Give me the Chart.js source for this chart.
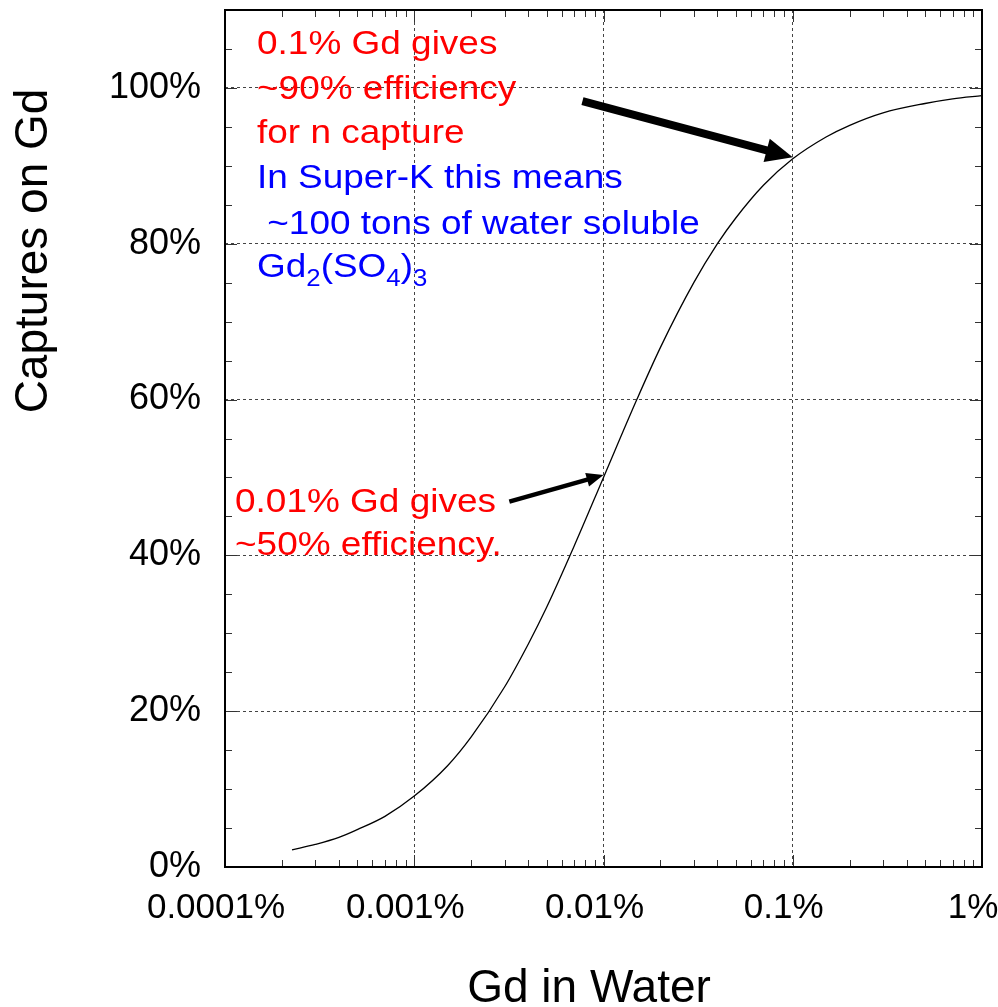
<!DOCTYPE html>
<html>
<head>
<meta charset="utf-8">
<script src="https://cdn.jsdelivr.net/npm/chart.js@4.4.1/dist/chart.umd.min.js"></script>
<style>
  body { margin: 0; background: #fff; }
</style>
</head>
<body>
<canvas id="graficoGd" width="998" height="1007"></canvas>
<script>
// Gd concentration in water (%) and fraction of captures on Gd (%)
const gdInWater = [0.000226, 0.0003, 0.0004, 0.0005, 0.0007, 0.001, 0.0015, 0.002, 0.003, 0.004, 0.005, 0.007,
  0.01, 0.015, 0.02, 0.03, 0.04, 0.05, 0.07, 0.1, 0.15, 0.2, 0.3, 0.5, 0.7, 1.0];
const capturesOnGd = [2.2, 2.9, 3.8, 4.8, 6.5, 9.1, 13.0, 16.7, 23.1, 28.6, 33.3, 41.2,
  50.0, 60.0, 66.7, 75.0, 80.0, 83.3, 87.5, 90.9, 93.7, 95.2, 96.8, 98.0, 98.6, 99.0];

const xTickValues = [0.0001, 0.001, 0.01, 0.1, 1];
const xTickLabels = ["0.0001%", "0.001%", "0.01%", "0.1%", "1%"];
const yTickValues = [0, 20, 40, 60, 80, 100];
const yTickLabels = ["0%", "20%", "40%", "60%", "80%", "100%"];

// annotation texts
const notaVermelha = ["0.1% Gd gives", "~90% efficiency", "for n capture"];
const notaAzul = ["In Super-K this means", " ~100 tons of water soluble"];
const formula = [["Gd", false], ["2", true], ["(SO", false], ["4", true], [")", false], ["3", true]];
const notaBaixo = ["0.01% Gd gives", "~50% efficiency."];

// arrows: [x, y] in data units, from tail to tip
const setaGrande = { de: [0.00774, 98.3], para: [0.1, 91.1] };
const setaPequena = { de: [0.00318, 46.9], para: [0.01, 50.3] };

const FONTE = "'Liberation Sans', Arial, sans-serif";

// log ticks: decades plus 2..9 in between
const xTicks = [];
xTickValues.forEach((v, i) => {
  xTicks.push({ value: v, major: true });
  if (i < xTickValues.length - 1) {
    for (let k = 2; k <= 9; k++) {
      xTicks.push({ value: Number((v * k).toPrecision(6)), major: false });
    }
  }
});

function ehMaiorY(v) {
  return v % 20 === 0 && v > 0 && v <= 100;
}

function seta(ctx, x1, y1, x2, y2, largura, cabeca, abertura) {
  const dx = x2 - x1, dy = y2 - y1;
  const len = Math.sqrt(dx * dx + dy * dy);
  const ux = dx / len, uy = dy / len;
  const bx = x2 - ux * cabeca, by = y2 - uy * cabeca;
  ctx.save();
  ctx.strokeStyle = "#000";
  ctx.fillStyle = "#000";
  ctx.lineWidth = largura;
  ctx.lineCap = "butt";
  ctx.beginPath();
  ctx.moveTo(x1, y1);
  ctx.lineTo(bx + ux * 2, by + uy * 2);
  ctx.stroke();
  ctx.beginPath();
  ctx.moveTo(x2, y2);
  ctx.lineTo(bx - uy * abertura / 2, by + ux * abertura / 2);
  ctx.lineTo(bx + uy * abertura / 2, by - ux * abertura / 2);
  ctx.closePath();
  ctx.fill();
  ctx.restore();
}

function escreve(ctx, texto, x, y, cor) {
  ctx.save();
  ctx.translate(x, y);
  ctx.scale(1.12, 1);
  ctx.font = "33px " + FONTE;
  ctx.fillStyle = cor;
  ctx.textAlign = "left";
  ctx.textBaseline = "alphabetic";
  ctx.fillText(texto, 0, 0);
  ctx.restore();
}

const desenhos = {
  id: "desenhos",
  afterDraw(chart) {
    const ctx = chart.ctx;
    const a = chart.chartArea;
    const sx = chart.scales.x, sy = chart.scales.y;

    ctx.save();
    // inward tick marks on all four sides
    ctx.strokeStyle = "#333";
    ctx.lineWidth = 1;
    ctx.beginPath();
    sx.ticks.forEach((t) => {
      const px = Math.round(sx.getPixelForValue(t.value)) + 0.5;
      const len = t.major ? 12 : 7;
      ctx.moveTo(px, a.bottom);
      ctx.lineTo(px, a.bottom - len);
      ctx.moveTo(px, a.top);
      ctx.lineTo(px, a.top + len);
    });
    sy.ticks.forEach((t) => {
      const py = Math.round(sy.getPixelForValue(t.value)) + 0.5;
      const len = t.value % 20 === 0 ? 12 : 7;
      ctx.moveTo(a.left, py);
      ctx.lineTo(a.left + len, py);
      ctx.moveTo(a.right, py);
      ctx.lineTo(a.right - len, py);
    });
    ctx.stroke();

    // frame
    ctx.strokeStyle = "#000";
    ctx.lineWidth = 2;
    ctx.strokeRect(a.left, a.top, a.right - a.left, a.bottom - a.top);
    ctx.restore();

    // annotation texts
    const x0 = a.left + 32;
    notaVermelha.forEach((l, i) => escreve(ctx, l, x0, a.top + 44 + i * 44.6, "#ff0000"));
    notaAzul.forEach((l, i) => escreve(ctx, l, x0, a.top + 178 + i * 45.5, "#0000ff"));

    ctx.save();
    let cx = x0;
    const by = a.top + 267;
    formula.forEach(([t, sub]) => {
      ctx.save();
      ctx.translate(cx, sub ? by + 9 : by);
      ctx.scale(1.12, 1);
      ctx.font = (sub ? "23px " : "33px ") + FONTE;
      ctx.fillStyle = "#0000ff";
      ctx.textBaseline = "alphabetic";
      ctx.fillText(t, 0, 0);
      cx += ctx.measureText(t).width * 1.12;
      ctx.restore();
    });
    ctx.restore();

    notaBaixo.forEach((l, i) => escreve(ctx, l, a.left + 10, a.top + 502 + i * 43, "#ff0000"));

    // arrows through the scales
    seta(ctx,
      sx.getPixelForValue(setaGrande.de[0]), sy.getPixelForValue(setaGrande.de[1]),
      sx.getPixelForValue(setaGrande.para[0]), sy.getPixelForValue(setaGrande.para[1]),
      8, 27, 24);
    seta(ctx,
      sx.getPixelForValue(setaPequena.de[0]), sy.getPixelForValue(setaPequena.de[1]),
      sx.getPixelForValue(setaPequena.para[0]), sy.getPixelForValue(setaPequena.para[1]),
      4.5, 17, 14);

    // axis titles
    ctx.save();
    ctx.fillStyle = "#000";
    ctx.font = "46px " + FONTE;
    ctx.textAlign = "center";
    ctx.textBaseline = "alphabetic";
    ctx.fillText("Gd in Water", a.left + 364, 1002);
    ctx.translate(47, 251);
    ctx.rotate(-Math.PI / 2);
    ctx.fillText("Captures on Gd", 0, 0);
    ctx.restore();
  },
};

new Chart(document.getElementById("graficoGd"), {
  type: "line",
  data: {
    datasets: [
      {
        label: "Captures on Gd",
        data: gdInWater.map((x, i) => ({ x: x, y: capturesOnGd[i] })),
        borderColor: "#000",
        borderWidth: 1.3,
        pointRadius: 0,
        fill: false,
        cubicInterpolationMode: "monotone",
      },
    ],
  },
  options: {
    responsive: false,
    animation: false,
    devicePixelRatio: 1,
    layout: { autoPadding: false, padding: { top: 10, right: 16, left: 0, bottom: 0 } },
    plugins: { legend: { display: false }, tooltip: { enabled: false } },
    scales: {
      x: {
        type: "logarithmic",
        min: 0.0001,
        max: 1,
        afterBuildTicks: (scale) => {
          scale.ticks = xTicks.map((t) => ({ value: t.value, major: t.major }));
        },
        afterFit: (scale) => {
          scale.height = 140;
          scale.paddingLeft = 0;
          scale.paddingRight = 0;
          scale.paddingTop = 0;
          scale.paddingBottom = 0;
        },
        ticks: {
          autoSkip: false,
          maxRotation: 0,
          padding: 20,
          labelOffset: -9,
          color: "#000",
          font: { family: FONTE, size: 35 },
          callback: (value) => {
            const i = xTickValues.findIndex((v) => Math.abs(Math.log10(v) - Math.log10(value)) < 1e-6);
            return i >= 0 ? xTickLabels[i] : "";
          },
        },
        grid: {
          drawTicks: false,
          lineWidth: 1,
          color: (c) => (c.tick && c.tick.major ? "#444" : "rgba(0,0,0,0)"),
        },
        border: { display: false, dash: [3, 3] },
      },
      y: {
        type: "linear",
        min: 0,
        max: 110,
        afterFit: (scale) => {
          scale.width = 225;
          scale.paddingTop = 0;
          scale.paddingBottom = 0;
          scale.paddingLeft = 0;
          scale.paddingRight = 0;
        },
        ticks: {
          stepSize: 5,
          autoSkip: false,
          padding: 24,
          color: "#000",
          font: { family: FONTE, size: 36 },
          callback: (value) => {
            const i = yTickValues.indexOf(value);
            return i >= 0 ? yTickLabels[i] : "";
          },
        },
        grid: {
          drawTicks: false,
          lineWidth: 1,
          color: (c) => (c.tick && ehMaiorY(c.tick.value) ? "#444" : "rgba(0,0,0,0)"),
        },
        border: { display: false, dash: [3, 3] },
      },
    },
  },
  plugins: [desenhos],
});
</script>
</body>
</html>
